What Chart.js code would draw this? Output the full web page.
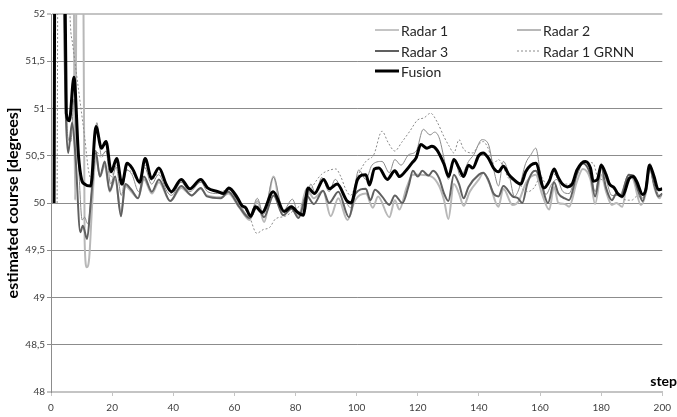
<!DOCTYPE html>
<html>
<head>
<meta charset="utf-8">
<script src="https://cdn.jsdelivr.net/npm/chart.js@4.4.0/dist/chart.umd.min.js"></script>
<style>
  html, body { margin: 0; padding: 0; background: #fff; }
  #wrap { width: 677px; height: 417px; position: relative; }
</style>
</head>
<body>
<div id="wrap"><canvas id="course"></canvas></div>
<script>
// values: [step, estimated course]
var radar1 = [[3,57],[4.5,52.5],[5.5,50.7],[6.5,50.65],[7.5,51.1],[9,50.4],[10.2,49.82],[11,49.85],[12,49.78],[13.2,50.1],
  [15,50.85],[16.5,50.5],[18,50.55],[19.5,50.2],[21.3,50.38],[23,50.08],[24.7,50.35],[26.5,50.3],[28.7,50.12],[30.6,50.38],
  [32.9,50.2],[35.2,50.3],[38,50.12],[39.4,50.08],[42.6,50.22],[45.4,50.12],[49,50.22],[51.2,50.12],[54.6,50.1],[58.2,50.14],
  [61,50.02],[63,49.92],[65,49.85],[67.5,50.05],[69.5,49.88],[72.8,50.27],[76,49.92],[79,50.04],[81,49.88],[83,49.9],
  [85,50.2],[86.5,50.1],[88.6,50.27],[91,50.12],[93,50.25],[95.5,50.1],[98,49.95],[100.7,50.35],[103,50.25],[105,50.4],
  [108.3,50.44],[110.7,50.32],[112.5,50.46],[114.5,50.4],[117,50.51],[119.5,50.55],[121.8,50.78],[124,50.72],[125.5,50.75],[127,50.69],
  [128.6,50.47],[130,50.25],[132,50.47],[134,50.28],[136.6,50.44],[138.3,50.51],[141,50.67],[143,50.63],[145,50.33],[146.4,50.18],
  [148,50.44],[150,50.28],[151.6,50.07],[153,50.14],[155.3,50.42],[157,50.51],[158.6,50.58],[160.3,50.28],[161.9,50.09],[163.8,50.2],
  [165.5,50.25],[167.5,50.12],[169.5,50.1],[172,50.35],[174.5,50.45],[176.5,50.35],[178,50.12],[180,50.42],[181.6,50.25],[183.5,50.08],
  [186,50.08],[189,50.3],[190.5,50.3],[192,50.18],[193.6,50.05],[196,50.42],[197.5,50.2],[199,50.08],[200,50.1]];

var radar2 = [[5,58],[7,56],[7.9,50.03],[8.8,56],[10,56],[11,49.6],[11.7,49.32],[12.5,49.42],[13.5,50.0],[14.7,50.5],
  [16,50.28],[17.6,50.4],[19.2,50.12],[21,50.25],[22.9,49.9],[24.3,50.18],[26.3,50.12],[28.5,50.05],[30.4,50.25],[33,50.1],
  [35.3,50.22],[39,50.02],[42.6,50.16],[46,50.08],[49,50.15],[51,50.08],[55.6,50.06],[58,50.1],[61.6,49.95],[65,49.82],
  [67.5,50.02],[69.7,49.8],[72.8,50.28],[75.5,49.9],[78.7,49.97],[81,49.86],[83.6,50.15],[86,50.05],[89,50.13],[91.5,49.86],
  [94,50.05],[97,49.82],[99.5,50.03],[103,50.1],[105.3,49.95],[107,50.07],[110.7,49.85],[112.5,50.03],[114,49.93],[116.3,50.16],
  [118.4,50.3],[121,50.3],[124.5,50.28],[127,50.18],[128.6,50.03],[130,49.83],[131.8,50.2],[133.5,50.1],[135,49.97],[137,50.12],
  [140,50.25],[141.5,50.32],[143.5,50.2],[146.4,49.96],[148,50.15],[151,49.98],[153,50.02],[155.5,50.22],[158.6,50.3],[160.6,50.1],
  [163,49.93],[164.6,50.17],[166,50.0],[168,49.99],[169.5,49.96],[172,50.22],[174,50.36],[176.5,50.25],[178,49.99],[180,50.3],
  [181.6,50.12],[183.5,49.98],[185,50.0],[186.9,49.96],[189,50.3],[190.5,50.25],[193,49.98],[194.6,50.1],[196,50.37],[197.5,50.15],
  [199,50.05],[200,50.1]];

var radar3 = [[3,58],[4,52.8],[5.6,50.53],[6.9,50.85],[8,50.5],[9.6,49.69],[10.4,49.76],[11.8,49.62],[13,50.0],[14.6,50.55],
  [16,50.28],[17.6,50.44],[19.2,50.13],[21,50.28],[22.9,49.86],[24.3,50.2],[26.3,50.14],[28.5,50.05],[30.4,50.28],[33,50.12],
  [35.3,50.25],[39,50.02],[42.6,50.18],[46,50.08],[49,50.16],[51,50.07],[55.6,50.05],[58,50.12],[61.6,49.96],[65,49.84],
  [67.5,49.96],[69.7,49.85],[72.8,50.08],[76,49.87],[78.7,49.94],[81,49.84],[83.6,50.08],[86,49.99],[89,50.13],[91,50.0],
  [94,50.12],[97.5,49.85],[99.6,50.1],[103,50.15],[104.5,50.03],[106,50.14],[108.3,50.07],[110.7,49.98],[112.5,50.08],[115,50.0],
  [117,50.18],[118.4,50.34],[120,50.28],[121.5,50.34],[123.5,50.29],[125,50.34],[127,50.26],[128.6,50.1],[130,50.02],[131.8,50.3],
  [133.5,50.2],[135,50.05],[136.6,50.17],[140,50.3],[141.4,50.32],[143,50.25],[144.8,50.1],[146.4,50.07],[148,50.18],[151,50.07],
  [152.8,50.05],[154.2,50.0],[155.8,50.2],[157.4,50.32],[158.6,50.34],[160.6,50.18],[162.6,50.0],[164.6,50.22],[166,50.1],[168,50.05],
  [169.5,50.03],[172,50.3],[174,50.42],[176.5,50.3],[178,50.07],[180,50.38],[181.6,50.16],[183.5,50.03],[185,50.1],[186.4,50.07],
  [189,50.3],[190.5,50.28],[192,50.14],[193.6,50.02],[196,50.37],[197.3,50.2],[198.7,50.07],[200,50.1]];

var radar1Grnn = [[2,50.0],[3,60],[5,58],[6,52.3],[7,51.7],[8,51.45],[9,51.2],[10,50.95],[11,50.7],[12.4,50.32],
  [13.5,50.25],[14.7,50.55],[16.5,50.48],[18,50.55],[19.7,50.28],[21.5,50.4],[23.2,50.2],[24.9,50.35],[26.7,50.32],[29,50.2],
  [30.8,50.4],[32.9,50.24],[35.3,50.32],[37.8,50.17],[39.4,50.1],[42.6,50.22],[45.4,50.14],[49,50.22],[51.2,50.15],[54.6,50.12],
  [58.2,50.14],[60.5,50.05],[62.6,49.98],[65,49.85],[67.3,49.68],[69.5,49.72],[71.5,49.74],[73.4,49.83],[76.6,49.86],[79.8,49.93],
  [82.4,50.0],[84,50.07],[85.7,50.18],[88.4,50.3],[90.5,50.34],[93.2,50.36],[94.8,50.28],[96.5,50.14],[98,50.08],[100.7,50.31],
  [103,50.44],[105.6,50.51],[108.3,50.76],[110.3,50.64],[112.5,50.55],[114.7,50.64],[117.4,50.76],[120,50.88],[122,50.9],[124.2,50.95],
  [126.3,50.86],[128.6,50.7],[130.3,50.6],[131.8,50.53],[133.5,50.67],[135,50.57],[138,50.53],[140,50.62],[141.4,50.65],[143,50.58],
  [144.8,50.42],[146.4,50.46],[148,50.38],[149.8,50.26],[152.8,50.23],[154.5,50.14],[156,50.12],[158,50.16],[160.3,50.28],[162,50.2],
  [164,50.32],[166,50.25],[167.5,50.2],[170,50.2],[172.1,50.3],[174,50.44],[176,50.43],[177.4,50.42],[178.8,50.28],[180,50.25],
  [183,50.2],[185,50.1],[186.9,50.05],[188.5,50.03],[190,50.03],[191.6,50.07],[194,50.1],[195.8,50.35],[197.3,50.2],[199,50.07],
  [200,50.1]];

var fusion = [[1,50.0],[2,60],[4,54.5],[5,50.95],[6,50.87],[7.5,51.33],[9,50.5],[10,50.25],[11,50.2],[13,50.18],
  [14.7,50.81],[16.5,50.58],[18,50.65],[19.7,50.33],[21.5,50.47],[23.2,50.2],[24.9,50.42],[26.7,50.36],[29,50.22],[30.8,50.47],
  [32.9,50.26],[35.3,50.37],[37.8,50.19],[39.4,50.12],[42.6,50.25],[45.4,50.15],[49,50.25],[51.2,50.16],[54.6,50.12],[56.4,50.1],
  [58.2,50.16],[60.9,50.06],[62.5,49.97],[63.7,49.95],[65.3,49.86],[66.9,49.96],[69.1,49.9],[72.7,50.12],[76.3,49.91],[78.6,49.96],
  [80.8,49.9],[82.5,49.87],[84.1,50.16],[86.2,50.1],[89.2,50.25],[91.1,50.15],[93.6,50.2],[96.9,50.02],[98.2,50.0],[100.3,50.25],
  [103,50.3],[104.2,50.19],[105.8,50.36],[107.3,50.37],[110,50.25],[112.5,50.34],[114,50.28],[116.3,50.35],[118,50.42],[119.5,50.48],
  [121,50.62],[123,50.58],[124.6,50.6],[126.3,50.56],[128.6,50.41],[130.1,50.28],[131.8,50.46],[133.5,50.37],[135,50.28],[136.6,50.4],
  [138,50.37],[139.9,50.5],[141.4,50.53],[143,50.48],[144.8,50.37],[146.4,50.33],[148,50.39],[149.8,50.3],[151,50.26],[153.7,50.2],
  [155.3,50.33],[157,50.4],[158.6,50.42],[161.3,50.16],[163,50.23],[164.6,50.36],[165.8,50.28],[167.3,50.2],[168.9,50.17],[170.5,50.2],
  [172.1,50.35],[174.8,50.44],[176.5,50.37],[177.4,50.23],[178.8,50.25],[180,50.4],[181.6,50.3],[182.7,50.2],[184.3,50.16],[185.4,50.1],
  [186.9,50.07],[189.2,50.26],[190.5,50.28],[191.6,50.23],[193.6,50.09],[194.6,50.14],[195.8,50.4],[197.3,50.28],[198.7,50.14],[200,50.15]];

var xLimits = [0, 200];
var yLimits = [48, 52];

function pontos(serie) {
  return serie.map(function (p) { return { x: p[0], y: p[1] }; });
}

// legend drawn inside the plot, two columns like the original
var legenda = {
  id: 'legenda',
  afterDraw: function (chart) {
    var ctx = chart.ctx;
    var pos = [[375, 30], [517, 30], [375, 51], [517, 51], [375, 71]];
    chart.data.datasets.forEach(function (ds, i) {
      var x = pos[i][0], y = pos[i][1];
      ctx.save();
      ctx.strokeStyle = ds.borderColor;
      ctx.lineWidth = ds.borderWidth;
      ctx.setLineDash(ds.borderDash || []);
      ctx.beginPath();
      ctx.moveTo(x, y);
      ctx.lineTo(x + 24, y);
      ctx.stroke();
      ctx.setLineDash([]);
      ctx.fillStyle = '#262626';
      ctx.font = '14px Lato';
      ctx.textBaseline = 'middle';
      ctx.fillText(ds.label, x + 26, y + 1);
      ctx.restore();
    });
    ctx.save();
    ctx.font = 'bold 14px Lato';
    ctx.fillStyle = '#000';
    ctx.textAlign = 'right';
    ctx.textBaseline = 'middle';
    ctx.fillText('step', 677, 381);
    ctx.restore();
  }
};

var ctx = document.getElementById('course').getContext('2d');
new Chart(ctx, {
  type: 'line',
  data: {
    datasets: [
      { label: 'Radar 1', data: pontos(radar1), borderColor: '#8a8a8a', borderWidth: 1, order: 3 },
      { label: 'Radar 2', data: pontos(radar2), borderColor: '#b8b8b8', borderWidth: 2, order: 4 },
      { label: 'Radar 3', data: pontos(radar3), borderColor: '#606060', borderWidth: 2, order: 2 },
      { label: 'Radar 1 GRNN', data: pontos(radar1Grnn), borderColor: '#8a8a8a', borderWidth: 1, borderDash: [2, 2], order: 1 },
      { label: 'Fusion', data: pontos(fusion), borderColor: '#000000', borderWidth: 3, order: 0 }
    ]
  },
  options: {
    responsive: true,
    maintainAspectRatio: false,
    animation: false,
    elements: {
      point: { radius: 0 },
      line: { cubicInterpolationMode: 'monotone', fill: false }
    },
    layout: { autoPadding: false, padding: { top: 14, right: 6, left: 0, bottom: 0 } },
    plugins: { legend: { display: false }, tooltip: { enabled: false } },
    scales: {
      x: {
        type: 'linear',
        min: xLimits[0],
        max: xLimits[1],
        afterFit: function (s) { s.height = 25; },
        border: { color: '#c4c4c4', width: 2 },
        grid: { drawOnChartArea: false, drawTicks: true, tickLength: 4, color: '#c4c4c4' },
        ticks: { stepSize: 20, color: '#404040', font: { family: 'Lato', size: 10 }, padding: 6, maxRotation: 0 }
      },
      y: {
        min: yLimits[0],
        max: yLimits[1],
        afterFit: function (s) { s.width = 51; },
        border: { color: '#8c8c8c', width: 1 },
        grid: {
          tickLength: 4,
          color: function (c) { return (c.tick && (c.tick.value === 52 || c.tick.value === 48)) ? '#c4c4c4' : '#8c8c8c'; },
          lineWidth: function (c) { return (c.tick && (c.tick.value === 52 || c.tick.value === 48)) ? 2 : 1; }
        },
        ticks: {
          stepSize: 0.5,
          color: '#404040',
          font: { family: 'Lato', size: 10 },
          padding: 2,
          callback: function (v) { return String(v).replace('.', ','); }
        },
        title: {
          display: true,
          text: 'estimated course [degrees]',
          color: '#000',
          font: { family: 'Lato', size: 16, weight: 'bold' },
          padding: { top: 3, bottom: 0 }
        }
      }
    }
  },
  plugins: [legenda]
});
</script>
</body>
</html>
